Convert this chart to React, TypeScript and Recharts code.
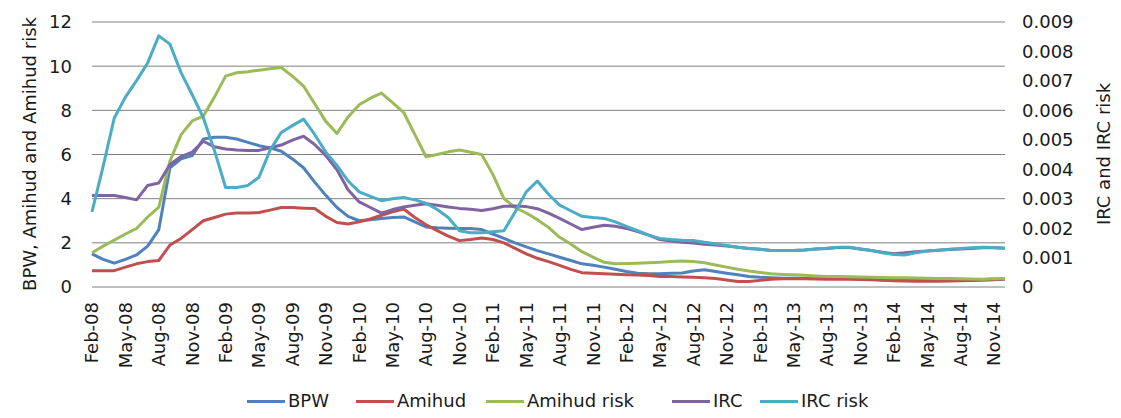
import React from 'react';
import { LineChart, Line, XAxis, YAxis, CartesianGrid, Legend } from 'recharts';

const months = [
  'Feb-08', 'Mar-08', 'Apr-08', 'May-08', 'Jun-08', 'Jul-08', 'Aug-08', 'Sep-08', 'Oct-08', 'Nov-08', 'Dec-08',
  'Jan-09', 'Feb-09', 'Mar-09', 'Apr-09', 'May-09', 'Jun-09', 'Jul-09', 'Aug-09', 'Sep-09', 'Oct-09', 'Nov-09', 'Dec-09',
  'Jan-10', 'Feb-10', 'Mar-10', 'Apr-10', 'May-10', 'Jun-10', 'Jul-10', 'Aug-10', 'Sep-10', 'Oct-10', 'Nov-10', 'Dec-10',
  'Jan-11', 'Feb-11', 'Mar-11', 'Apr-11', 'May-11', 'Jun-11', 'Jul-11', 'Aug-11', 'Sep-11', 'Oct-11', 'Nov-11', 'Dec-11',
  'Jan-12', 'Feb-12', 'Mar-12', 'Apr-12', 'May-12', 'Jun-12', 'Jul-12', 'Aug-12', 'Sep-12', 'Oct-12', 'Nov-12', 'Dec-12',
  'Jan-13', 'Feb-13', 'Mar-13', 'Apr-13', 'May-13', 'Jun-13', 'Jul-13', 'Aug-13', 'Sep-13', 'Oct-13', 'Nov-13', 'Dec-13',
  'Jan-14', 'Feb-14', 'Mar-14', 'Apr-14', 'May-14', 'Jun-14', 'Jul-14', 'Aug-14', 'Sep-14', 'Oct-14', 'Nov-14', 'Dec-14',
];

// left axis series
const bpw = [
  1.5, 1.25, 1.08, 1.25, 1.45, 1.85, 2.6, 5.4, 5.8, 5.95,
  6.7, 6.78, 6.78, 6.7, 6.55, 6.4, 6.3, 6.15, 5.8, 5.4,
  4.75, 4.15, 3.6, 3.2, 3.0, 3.05, 3.1, 3.15, 3.17, 2.95,
  2.72, 2.68, 2.66, 2.65, 2.65, 2.6, 2.4, 2.2, 2.0, 1.82,
  1.65, 1.5, 1.35, 1.2, 1.05, 0.98, 0.9, 0.8, 0.7, 0.62,
  0.6, 0.6, 0.62, 0.63, 0.72, 0.78, 0.7, 0.62, 0.55, 0.48,
  0.44, 0.42, 0.4, 0.4, 0.4, 0.4, 0.4, 0.4, 0.4, 0.38,
  0.35, 0.32, 0.3, 0.3, 0.3, 0.3, 0.3, 0.3, 0.32, 0.33,
  0.34, 0.35, 0.35,
];
const amihud = [
  0.74, 0.74, 0.74, 0.9, 1.05, 1.15, 1.2, 1.9, 2.2, 2.6,
  3.0, 3.15, 3.3, 3.35, 3.35, 3.37, 3.48, 3.6, 3.6, 3.57,
  3.55, 3.2, 2.92, 2.85, 2.95, 3.08, 3.25, 3.4, 3.53, 3.15,
  2.82, 2.55, 2.3, 2.1, 2.15, 2.22, 2.15, 2.0, 1.75, 1.5,
  1.3, 1.15, 0.98, 0.8, 0.65, 0.62, 0.6, 0.58, 0.56, 0.54,
  0.52, 0.48, 0.47, 0.45, 0.44, 0.42, 0.38, 0.32, 0.25, 0.25,
  0.3, 0.35, 0.37, 0.38, 0.37, 0.36, 0.35, 0.35, 0.35, 0.34,
  0.33, 0.3, 0.28, 0.27, 0.26, 0.26, 0.26, 0.27, 0.28, 0.29,
  0.3, 0.33, 0.37,
];
const amihudRisk = [
  1.55, 1.85, 2.12, 2.4, 2.65, 3.17, 3.62, 5.7, 6.9, 7.52,
  7.74, 8.6, 9.55, 9.7, 9.75, 9.82, 9.88, 9.94, 9.55, 9.1,
  8.3, 7.5, 6.95, 7.7, 8.25, 8.55, 8.78, 8.35, 7.9, 6.9,
  5.9, 6.0, 6.12, 6.2, 6.1, 6.0, 5.1, 4.0, 3.6, 3.35,
  3.05, 2.7, 2.25, 1.95, 1.6, 1.35, 1.12, 1.05, 1.06, 1.08,
  1.1, 1.12, 1.15, 1.18, 1.15, 1.1, 1.0, 0.9, 0.8, 0.72,
  0.66, 0.6, 0.57, 0.55, 0.53, 0.5, 0.48, 0.47, 0.46, 0.45,
  0.44, 0.43, 0.42, 0.42, 0.41, 0.4, 0.39, 0.38, 0.37, 0.36,
  0.35, 0.37, 0.38,
];

// right axis series
const irc = [
  0.00311, 0.00311, 0.00311, 0.00304, 0.00296, 0.00345, 0.00353, 0.00416, 0.00443, 0.00458,
  0.00495, 0.00476, 0.00469, 0.00465, 0.00464, 0.00464, 0.00473, 0.00482, 0.00499, 0.00512,
  0.00484, 0.00446, 0.00398, 0.0033, 0.00289, 0.0027, 0.00251, 0.00263, 0.00272, 0.00278,
  0.00283, 0.00278, 0.00272, 0.00267, 0.00264, 0.0026, 0.00266, 0.00274, 0.00275, 0.00273,
  0.00266, 0.00251, 0.00233, 0.00214, 0.00195, 0.00203, 0.0021, 0.00206, 0.00199, 0.00188,
  0.00176, 0.00161, 0.00156, 0.00152, 0.00149, 0.00145, 0.00143, 0.00139, 0.00135, 0.00131,
  0.00128, 0.00124, 0.00124, 0.00124, 0.00126, 0.00129, 0.00131, 0.00134, 0.00134, 0.00129,
  0.00124, 0.00118, 0.00113, 0.00116, 0.0012, 0.00122, 0.00125, 0.00127, 0.00129, 0.00131,
  0.00133, 0.00133, 0.00132,
];
const ircRisk = [
  0.00255, 0.0041, 0.00574, 0.00645, 0.00701, 0.00761, 0.00853, 0.00825, 0.00728, 0.00653,
  0.00575, 0.00463, 0.00338, 0.00338, 0.00345, 0.00373, 0.00465, 0.00525, 0.00548, 0.0057,
  0.00518, 0.00458, 0.00413, 0.0036, 0.00323, 0.00308, 0.00293, 0.003, 0.00304, 0.00296,
  0.00285, 0.00263, 0.00236, 0.00191, 0.00184, 0.00184, 0.00188, 0.00191, 0.00255, 0.00323,
  0.0036, 0.00315, 0.00278, 0.00259, 0.0024, 0.00236, 0.00233, 0.00221, 0.00206, 0.00191,
  0.00176, 0.00165, 0.00161, 0.00159, 0.00158, 0.00152, 0.00147, 0.00141, 0.00135, 0.00131,
  0.00128, 0.00124, 0.00124, 0.00124, 0.00126, 0.00129, 0.00132, 0.00135, 0.00135, 0.00129,
  0.00124, 0.00116, 0.0011, 0.00109, 0.00116, 0.00122, 0.00125, 0.00128, 0.00131, 0.00133,
  0.00135, 0.00134, 0.00132,
];

const leftTicks = [0, 2, 4, 6, 8, 10, 12];
const rightTicks = [0, 0.001, 0.002, 0.003, 0.004, 0.005, 0.006, 0.007, 0.008, 0.009];

const series = [
  { key: 'BPW', color: '#4F81BD', axis: 'left' },
  { key: 'Amihud', color: '#C0504D', axis: 'left' },
  { key: 'Amihud risk', color: '#9BBB59', axis: 'left' },
  { key: 'IRC', color: '#8064A2', axis: 'right' },
  { key: 'IRC risk', color: '#4BACC6', axis: 'right' },
];
// where each legend entry starts
const legendX = [247, 356, 486, 672, 760];

const data = months.map((m, i) => ({
  month: m,
  BPW: bpw[i],
  Amihud: amihud[i],
  'Amihud risk': amihudRisk[i],
  IRC: irc[i],
  'IRC risk': ircRisk[i],
}));

const FONT = '"DejaVu Sans", Verdana, sans-serif';
const TEXT = '#1a1a1a';

const MonthTick = (props: any) => {
  const { x, y, payload } = props;
  return (
    <text
      x={x}
      y={y}
      transform={`rotate(-90, ${x}, ${y})`}
      textAnchor="end"
      dy="0.36em"
      fontFamily={FONT}
      fontSize={18}
      fill={TEXT}
    >
      {payload.value}
    </text>
  );
};

const ChartLegend = () => (
  <div style={{ position: 'relative', width: 1121, height: 43, fontFamily: FONT, fontSize: 18, color: TEXT }}>
    {series.map((s, i) => (
      <div
        key={s.key}
        style={{ position: 'absolute', left: legendX[i], top: 15, display: 'flex', alignItems: 'center', whiteSpace: 'nowrap', lineHeight: '22px' }}
      >
        <span style={{ display: 'inline-block', width: 38, height: 3, background: s.color, marginRight: 3 }} />
        <span>{s.key}</span>
      </div>
    ))}
  </div>
);

const App: React.FC = () => {
  return (
    <div style={{ position: 'absolute', left: 0, top: 0, background: '#fff' }}>
      <LineChart width={1121} height={418} data={data} margin={{ top: 22, right: 0, bottom: 0, left: 0 }}>
        <CartesianGrid yAxisId="left" vertical={false} stroke="#808080" strokeWidth={1} />
        <XAxis
          dataKey="month"
          interval={2}
          axisLine={false}
          tickLine={false}
          tickSize={0}
          tickMargin={15}
          height={88}
          tick={<MonthTick />}
        />
        <YAxis
          yAxisId="left"
          domain={[0, 12]}
          ticks={leftTicks}
          width={92}
          axisLine={false}
          tickLine={false}
          tickSize={0}
          tickMargin={20}
          tick={{ fontFamily: FONT, fontSize: 18, fill: TEXT }}
          label={{
            content: () => (
              <text
                x={29}
                y={154}
                transform="rotate(-90, 29, 154)"
                textAnchor="middle"
                dominantBaseline="central"
                fontFamily={FONT}
                fontSize={18}
                fill={TEXT}
              >
                BPW, Amihud and Amihud risk
              </text>
            ),
          }}
        />
        <YAxis
          yAxisId="right"
          orientation="right"
          domain={[0, 0.009]}
          ticks={rightTicks}
          width={116}
          axisLine={false}
          tickLine={false}
          tickSize={0}
          tickMargin={17}
          tickFormatter={(v: number) => (v === 0 ? '0' : v.toFixed(3))}
          tick={{ fontFamily: FONT, fontSize: 18, fill: TEXT }}
          label={{
            content: () => (
              <text
                x={1103}
                y={154}
                transform="rotate(-90, 1103, 154)"
                textAnchor="middle"
                dominantBaseline="central"
                fontFamily={FONT}
                fontSize={18}
                fill={TEXT}
              >
                IRC and IRC risk
              </text>
            ),
          }}
        />
        <Legend verticalAlign="bottom" align="left" wrapperStyle={{ left: 0, bottom: 0 }} content={() => <ChartLegend />} />
        {series.map((s) => (
          <Line
            key={s.key}
            yAxisId={s.axis}
            type="linear"
            dataKey={s.key}
            stroke={s.color}
            strokeWidth={3}
            dot={false}
            activeDot={false}
            strokeLinejoin="round"
            isAnimationActive={false}
          />
        ))}
      </LineChart>
    </div>
  );
};

export default App;
